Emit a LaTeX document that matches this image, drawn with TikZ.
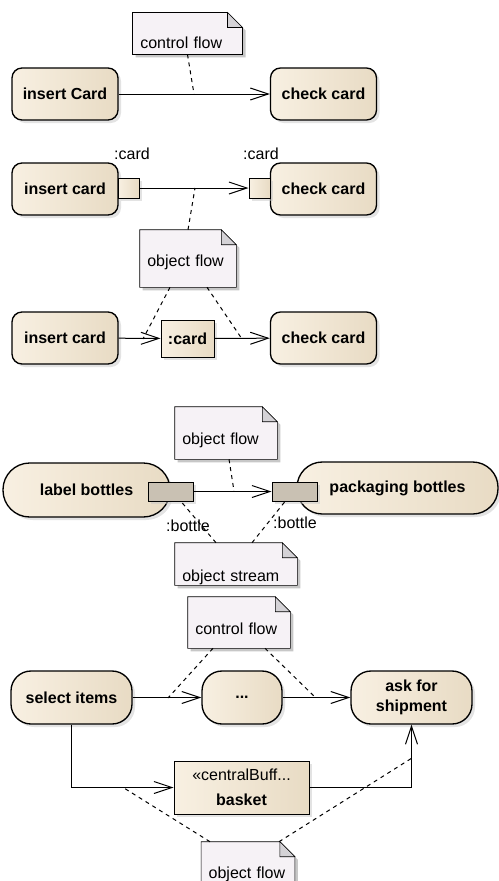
\documentclass[tikz,border=0pt]{standalone}
\usepackage{fontspec}
\setmainfont{Liberation Sans}
\usetikzlibrary{arrows.meta,shadows,calc,backgrounds}

\definecolor{actleft}{RGB}{248,240,226}
\definecolor{actright}{RGB}{232,219,196}
\definecolor{notefill}{RGB}{246,242,246}
\definecolor{foldgray}{RGB}{212,210,214}
\definecolor{pingray}{RGB}{201,193,179}

% note outline with folded corner, drawn behind the note text
\newcommand{\notebg}[1]{%
  \begin{pgfonlayer}{background}
    \fill[black!22] ($(#1.north west)+(3,3)$) -- ($(#1.north east)+(-12,3)$) -- ($(#1.north east)+(3,18)$)
      -- ($(#1.south east)+(3,3)$) -- ($(#1.south west)+(3,3)$) -- cycle;
    \filldraw[fill=notefill] (#1.north west) -- ($(#1.north east)+(-15,0)$) -- ($(#1.north east)+(0,15)$)
      -- (#1.south east) -- (#1.south west) -- cycle;
    \filldraw[fill=foldgray] ($(#1.north east)+(-15,0)$) -- ($(#1.north east)+(-15,15)$) -- ($(#1.north east)+(0,15)$) -- cycle;
  \end{pgfonlayer}}

\tikzset{every picture/.style={line width=0.75pt}}
\tikzset{
  umlshadow/.style={drop shadow={shadow xshift=2.25pt, shadow yshift=-2.25pt, fill=black!22}},
  act/.style={rectangle, rounded corners=#1, draw, line width=1pt, left color=actleft, right color=actright,
    umlshadow, inner sep=0pt, align=center, font=\bfseries\fontsize{12}{15}\selectfont},
  act/.default=7.5pt,
  objbox/.style={rectangle, draw, line width=0.75pt, left color=actleft, right color=actright,
    umlshadow, inner sep=0pt, align=center, font=\bfseries\fontsize{12}{15}\selectfont},
  pin/.style={rectangle, draw, line width=0.75pt, left color=actleft, right color=actright, umlshadow,
    inner sep=0pt, minimum width=15.75pt, minimum height=15pt},
  graypin/.style={rectangle, draw, line width=0.75pt, fill=pingray, umlshadow,
    inner sep=0pt, minimum width=33.75pt, minimum height=14.25pt},
  note/.style={rectangle, inner xsep=5.5pt, inner ysep=0pt, align=left, font=\fontsize{12}{14}\selectfont},
  pinlabel/.style={inner sep=0pt, font=\fontsize{12}{14}\selectfont},
  flow/.style={-{Straight Barb[length=13.5pt,width=9pt]}, line width=0.75pt},
  notelink/.style={dash pattern=on 3pt off 3pt, line width=0.75pt}
}

\begin{document}
\begin{tikzpicture}[x=0.75pt,y=0.75pt,yscale=-1]
	\useasboundingbox (0,0) rectangle (499,881);

	% control flow
	\node[note, text width=70.75pt, text height=27pt, text depth=3.75pt] (cfnoteA) at (187.5,33.5) {control flow};
	\notebg{cfnoteA}
	\node[act, minimum width=79.5pt, minimum height=39pt] (insertA) at (65,94) {insert Card};
	\node[act, minimum width=79.5pt, minimum height=39pt] (checkA) at (323.5,94) {check card};
	\coordinate (cfA) at (194,94);

	% object flow with pins
	\node[act, minimum width=79.5pt, minimum height=39pt] (insertB) at (65,189) {insert card};
	\node[act, minimum width=79.5pt, minimum height=39pt] (checkB) at (323.5,189) {check card};
	\node[pin] (outpinB) at (128.5,188) {};
	\node[pin] (inpinB) at (259.5,188) {};
	\node[pinlabel] (outlblB) at (132,154) {:card};
	\node[pinlabel] (inlblB) at (261,154) {:card};
	\node[note, text width=61pt, text height=27pt, text depth=15.75pt] (ofnoteB) at (188,258.5) {object flow};
	\notebg{ofnoteB}
	\coordinate (ofB) at (195,188);

	% object flow with object node
	\node[act, minimum width=79.5pt, minimum height=39pt] (insertC) at (65,338) {insert card};
	\node[objbox, minimum width=39.75pt, minimum height=27.75pt] (cardC) at (187.5,338.5) {:card};
	\node[act, minimum width=79.5pt, minimum height=39pt] (checkC) at (323.5,338) {check card};
	\coordinate (ofC1) at (143,339);
	\coordinate (ofC2) at (242,339);

	% object stream
	\node[note, text width=65.5pt, text height=27.75pt, text depth=11.25pt] (ofnoteD) at (226,433) {object flow};
	\notebg{ofnoteD}
	\node[act=20pt, minimum width=125.25pt, minimum height=40.5pt] (labelD) at (86.5,490) {label bottles};
	\node[act=19pt, minimum width=150.75pt, minimum height=39pt] (packD) at (397.5,488) {packaging bottles};
	\node[graypin] (outpinD) at (170.5,491.5) {};
	\node[graypin] (inpinD) at (294.5,491.5) {};
	\node[pinlabel] (outlblD) at (188,526) {:bottle};
	\node[pinlabel] (inlblD) at (295,523) {:bottle};
	\node[note, text width=80.5pt, text height=28.5pt, text depth=3pt] (osnoteD) at (236,564) {object stream};
	\notebg{osnoteD}
	\coordinate (ofD) at (234,491);

	% central buffer
	\node[note, text width=65.5pt, text height=27.75pt, text depth=10.5pt] (cfnoteE) at (239,622.5) {control flow};
	\notebg{cfnoteE}
	\node[act=15pt, minimum width=90.75pt, minimum height=39.75pt] (selectE) at (71.5,697.5) {select items};
	\node[act=15pt, minimum width=60pt, minimum height=39.75pt] (dotsE) at (242,697.5) {...};
	\node[act=15pt, minimum width=90.75pt, minimum height=39.75pt] (askE) at (411.5,697.5) {ask for\\shipment};
	\node[objbox, minimum width=101.25pt, minimum height=39.75pt, font=\fontsize{12}{18.75}\selectfont] (basketE) at (241.5,787.5) {«centralBuff...\\\textbf{basket}};
	\node[note, text width=59pt, text height=27pt, text depth=7.5pt] (ofnoteE) at (248,865) {object flow};
	\notebg{ofnoteE}
	\coordinate (cfE1) at (168,698);
	\coordinate (cfE2) at (316,698);
	\coordinate (ofE1) at (124,788);
	\coordinate (ofE2) at (412,758);

	% flows
	\draw[flow] (insertA) -- (checkA);
	\draw[flow] (outpinB) -- (inpinB);
	\draw[flow] (insertC) -- (cardC);
	\draw[flow] (cardC) -- (checkC);
	\draw[flow] (outpinD) -- (inpinD);
	\draw[flow] (selectE) -- (dotsE);
	\draw[flow] (dotsE) -- (askE);
	\draw[flow] (selectE.south) |- (basketE.west);
	\draw[flow] (basketE.east) -| (askE.south);

	% note links
	\draw[notelink] (cfnoteA.south) -- (cfA);
	\draw[notelink] (ofnoteB.north) -- (ofB);
	\draw[notelink] ([xshift=-13.5pt]ofnoteB.south) -- (ofC1);
	\draw[notelink] ([xshift=14.25pt]ofnoteB.south) -- (ofC2);
	\draw[notelink] ([xshift=2.25pt]ofnoteD.south) -- (ofD);
	\draw[notelink] ([xshift=-15pt]osnoteD.north) -- ([xshift=7.9pt]outpinD.south);
	\draw[notelink] ([xshift=12pt]osnoteD.north) -- ([xshift=-7.1pt]inpinD.south);
	\draw[notelink] ([xshift=-19.5pt]cfnoteE.south) -- (cfE1);
	\draw[notelink] ([xshift=19.5pt]cfnoteE.south) -- (cfE2);
	\draw[notelink] ([xshift=-28.5pt]ofnoteE.north) -- (ofE1);
	\draw[notelink] ([xshift=23.25pt]ofnoteE.north) -- (ofE2);

\end{tikzpicture}
\end{document}
